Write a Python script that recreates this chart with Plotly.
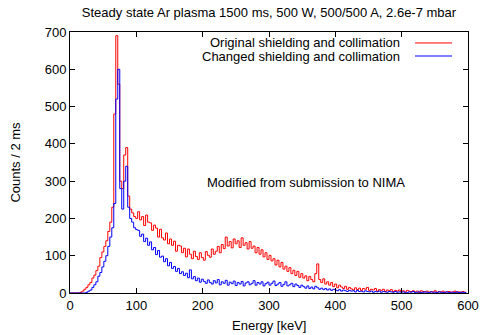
import plotly.graph_objects as go

bin_width = 3  # keV, bin left edges at 0, 3, 6, ...
red_counts = [
    0, 0, 0, 0, 0, 2, 5, 10, 15, 22,
    28, 40, 48, 60, 72, 95, 110, 125, 140, 165,
    190, 230, 480, 690, 560, 300, 280, 370, 390, 260,
    225, 215, 205, 200, 218, 196, 205, 181, 209, 190,
    188, 168, 182, 174, 150, 171, 148, 142, 161, 132,
    145, 128, 139, 112, 128, 126, 108, 120, 97, 118,
    104, 92, 112, 98, 90, 108, 95, 88, 111, 101,
    96, 118, 104, 112, 125, 108, 130, 119, 150, 126,
    138, 121, 145, 132, 140, 122, 148, 128, 135, 118,
    138, 120, 126, 108, 122, 104, 116, 97, 108, 90,
    101, 86, 92, 75, 88, 70, 82, 64, 72, 58,
    68, 52, 61, 47, 58, 42, 52, 40, 46, 33,
    44, 36, 30, 52, 78, 36, 28, 38, 24, 30,
    21, 28, 17, 24, 14, 21, 16, 12, 18, 10,
    15, 11, 8, 14, 9, 13, 7, 12, 10, 15,
    7, 10, 8, 12, 5, 9, 7, 10, 4, 8,
    6, 9, 4, 7, 5, 8, 4, 6, 3, 7,
    5, 4, 6, 3, 5, 2, 6, 4, 3, 5,
    2, 4, 3, 6, 2, 4, 3, 5, 2, 3,
    4, 2, 3, 5, 2, 3, 2, 4, 2, 3,
]
blue_counts = [
    0, 0, 0, 0, 0, 0, 0, 0, 2, 5,
    8, 15, 22, 30, 45, 55, 70, 85, 100, 125,
    150, 175, 240, 520, 600, 280, 225, 300, 340, 230,
    200, 190, 175, 170, 168, 152, 158, 138, 147, 128,
    137, 116, 122, 103, 114, 96, 99, 84, 92, 73,
    82, 66, 71, 58, 66, 52, 57, 47, 53, 41,
    62, 38, 44, 33, 40, 29, 37, 31, 26, 35,
    28, 24, 33, 27, 36, 22, 30, 26, 34, 21,
    29, 25, 32, 20, 28, 24, 31, 19, 27, 30,
    22, 26, 33, 21, 28, 24, 30, 19, 25, 29,
    21, 26, 32, 20, 24, 28, 18, 23, 30, 19,
    22, 26, 17, 24, 20, 15, 21, 17, 13, 19,
    12, 16, 11, 18, 14, 10, 13, 9, 12, 8,
    11, 7, 10, 8, 6, 9, 5, 8, 6, 4,
    7, 5, 6, 3, 7, 4, 5, 3, 6, 4,
    3, 5, 2, 4, 3, 5, 2, 4, 3, 2,
    4, 3, 2, 4, 2, 3, 2, 3, 2, 1,
    3, 2, 4, 1, 2, 3, 1, 2, 3, 2,
    1, 3, 2, 2, 1, 3, 2, 1, 2, 3,
    1, 2, 2, 1, 3, 1, 2, 2, 1, 2,
]
energy = [i * bin_width for i in range(len(red_counts))]

title_text = "Steady state Ar plasma 1500 ms, 500 W, 500/500 A, 2.6e-7 mbar"
legend_labels = ["Original shielding and collimation", "Changed shielding and collimation"]
note_text = "Modified from submission to NIMA"
x_title = "Energy [keV]"
y_title = "Counts / 2 ms"
x_ticks = [0, 100, 200, 300, 400, 500, 600]
y_ticks = [0, 100, 200, 300, 400, 500, 600, 700]

font_family = "Liberation Sans, Arial, sans-serif"
fsize = 13
txt_font = dict(family=font_family, size=fsize, color="black")

fig = go.Figure()
fig.add_trace(go.Scatter(x=energy, y=red_counts, mode="lines", line=dict(color="#ff0000", width=1, shape="hv"),
                         name=legend_labels[0], showlegend=False, hoverinfo="skip"))
fig.add_trace(go.Scatter(x=energy, y=blue_counts, mode="lines", line=dict(color="#0000ff", width=1, shape="hv"),
                         name=legend_labels[1], showlegend=False, hoverinfo="skip"))

axis_common = dict(showgrid=False, zeroline=False, showline=True, linecolor="black", linewidth=1,
                   mirror="ticks", ticks="inside", ticklen=5, tickcolor="black", automargin=False,
                   ticklabeloverflow="allow", tickfont=txt_font)

fig.update_xaxes(range=[0, 600], tickvals=x_ticks, **axis_common)
fig.update_yaxes(range=[0, 700], tickvals=y_ticks, **axis_common)

# axis titles as annotations for exact placement
fig.add_annotation(x=0.5, y=-0.123, xref="paper", yref="paper", text=x_title, showarrow=False,
                   xanchor="center", yanchor="middle", font=txt_font)
fig.add_annotation(x=-0.138, y=0.5, xref="paper", yref="paper", text=y_title, showarrow=False,
                   textangle=-90, xanchor="center", yanchor="middle", font=txt_font)

# legend drawn gnuplot-style: text then sample line
legend_colors = ["#ff0000", "#0000ff"]
for k, (lab, col) in enumerate(zip(legend_labels, legend_colors)):
    yk = 0.958 - k * 0.05
    fig.add_annotation(x=0.834, y=yk, xref="paper", yref="paper", text=lab, showarrow=False,
                       xanchor="right", yanchor="middle", font=txt_font)
    fig.add_shape(type="line", xref="paper", yref="paper", x0=0.867, x1=0.960, y0=yk, y1=yk,
                  line=dict(color=col, width=1))

fig.add_annotation(x=0.593, y=0.425, xref="paper", yref="paper", text=note_text, showarrow=False,
                   xanchor="center", yanchor="middle", font=txt_font)

fig.update_layout(
    width=481, height=335,
    margin=dict(l=70, r=13, t=32, b=42),
    paper_bgcolor="white", plot_bgcolor="white",
    title=dict(text=title_text, x=0.5, xref="paper", xanchor="center", y=0.963, yref="container",
               yanchor="middle", automargin=False, font=txt_font),
)

# remove the default page margin so the figure fills the window exactly
fig.write_html("out.html", config={"displayModeBar": False},
               post_script="document.body.style.margin='0';document.body.style.overflow='hidden';")
